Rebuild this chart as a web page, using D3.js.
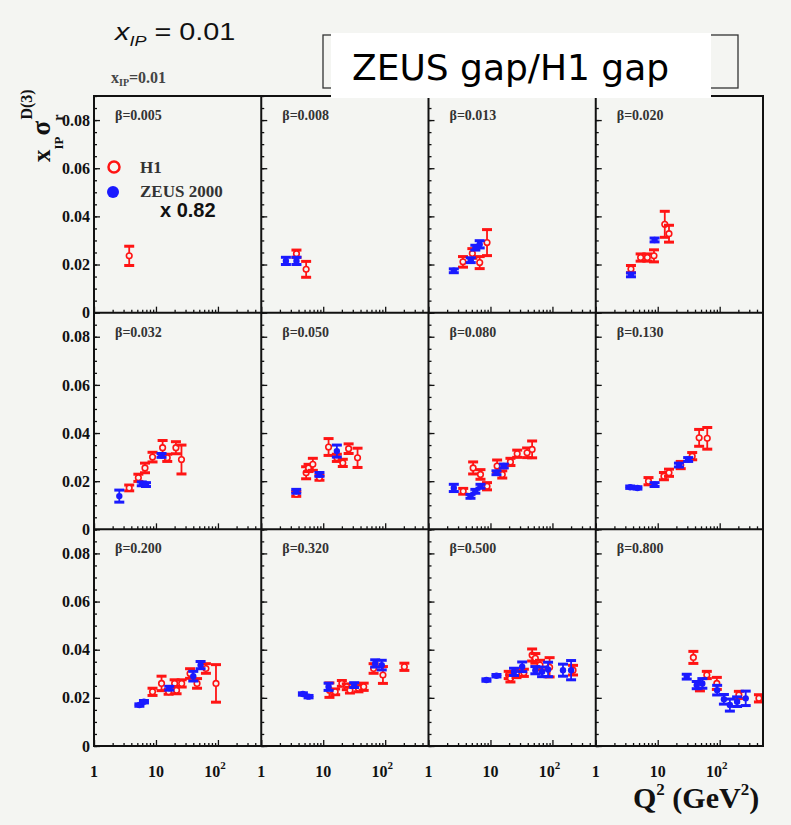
<!DOCTYPE html>
<html>
<head>
<meta charset="utf-8">
<script src="https://cdn.jsdelivr.net/npm/d3@7"></script>
<style>
  body { margin: 0; background: #f4f5f2; }
  svg { display: block; }
</style>
</head>
<body>
<svg id="chart"></svg>
<script>
// beta bins, one per panel (row by row)
var betas = ["0.005", "0.008", "0.013", "0.020", "0.032", "0.050", "0.080", "0.130", "0.200", "0.320", "0.500", "0.800"];

// H1 points per panel: [Q2, xIP*sigma, error]
var h1Points = [
  [[3.7, 0.0236, 0.004]],
  [[3.7, 0.0245, 0.0015], [5.3, 0.018, 0.0033]],
  [[3.6, 0.0211, 0.0022], [5.1, 0.0246, 0.002], [6.7, 0.0208, 0.0025], [8.8, 0.0291, 0.0054]],
  [[3.7, 0.0181, 0.0015], [5.3, 0.0229, 0.0015], [6.8, 0.0229, 0.0015], [8.7, 0.0236, 0.0025], [13, 0.0367, 0.0054], [15.2, 0.0328, 0.0035]],
  [[3.7, 0.0172, 0.0012], [5.2, 0.0214, 0.0015], [6.65, 0.0255, 0.002], [8.8, 0.030, 0.002], [12.8, 0.0339, 0.003], [15.2, 0.0297, 0.0015], [21, 0.0339, 0.0025], [25.8, 0.029, 0.006]],
  [[3.67, 0.0147, 0.001], [5.3, 0.0235, 0.0025], [5.8, 0.0255, 0.0015], [6.8, 0.027, 0.0025], [8.7, 0.0214, 0.001], [12.2, 0.0342, 0.0035], [16.6, 0.0297, 0.0015], [20.7, 0.0276, 0.0015], [25.7, 0.0335, 0.002], [35.8, 0.0297, 0.004]],
  [[3.63, 0.0158, 0.0012], [5.25, 0.0255, 0.0025], [6.9, 0.0228, 0.002], [8.8, 0.0179, 0.0015], [12.8, 0.0263, 0.0025], [15.5, 0.0228, 0.0015], [21, 0.028, 0.0015], [27, 0.0314, 0.0015], [39, 0.0318, 0.002], [47, 0.0332, 0.0035]],
  [[7.1, 0.020, 0.0015], [12.6, 0.0221, 0.0015], [15.2, 0.0235, 0.0015], [23.5, 0.0267, 0.0015], [36, 0.0304, 0.0015], [46.6, 0.038, 0.0035], [63, 0.0378, 0.0045]],
  [[8.8, 0.0225, 0.0015], [12.3, 0.026, 0.003], [16, 0.0225, 0.001], [20, 0.026, 0.0015], [21.5, 0.0232, 0.0015], [26, 0.026, 0.0015], [35.5, 0.0301, 0.002], [46, 0.026, 0.002], [64, 0.0322, 0.002], [93, 0.026, 0.0078]],
  [[12.6, 0.0232, 0.003], [15.6, 0.0225, 0.0012], [20, 0.026, 0.0012], [24, 0.0246, 0.0012], [27, 0.0232, 0.0012], [37, 0.024, 0.0015], [45, 0.0246, 0.0015], [65, 0.0322, 0.002], [92, 0.0295, 0.0035], [204, 0.0329, 0.0015]],
  [[19.7, 0.0295, 0.0015], [21, 0.0281, 0.0015], [26.3, 0.0299, 0.0015], [34.6, 0.0304, 0.0015], [47, 0.0378, 0.0025], [53, 0.0364, 0.002], [63, 0.0336, 0.002], [90, 0.0327, 0.004], [215, 0.0315, 0.002]],
  [[37.6, 0.0368, 0.0025], [48, 0.0244, 0.0015], [62, 0.0295, 0.0015], [90, 0.026, 0.0025], [204, 0.0212, 0.0015], [430, 0.0198, 0.0015]]
];

// ZEUS 2000 points (x 0.82) per panel: [Q2, xIP*sigma, error]
var zeusPoints = [
  [],
  [[2.5, 0.0215, 0.0015], [3.7, 0.0215, 0.0015]],
  [[2.56, 0.0174, 0.0008], [4.8, 0.0218, 0.001], [5.7, 0.027, 0.001], [6.7, 0.0284, 0.0015]],
  [[3.7, 0.0157, 0.0008], [8.9, 0.0302, 0.0008]],
  [[2.56, 0.0138, 0.0025], [5.9, 0.0189, 0.0008], [6.9, 0.0186, 0.0008], [12.3, 0.0307, 0.0008]],
  [[3.67, 0.0158, 0.0008], [8.7, 0.0228, 0.0008], [16.6, 0.0325, 0.0025]],
  [[2.56, 0.0172, 0.0015], [4.76, 0.0137, 0.0008], [5.7, 0.0158, 0.0008], [6.9, 0.0179, 0.0008], [12.5, 0.0235, 0.0008], [16.4, 0.0263, 0.0008]],
  [[3.6, 0.0175, 0.0005], [4.7, 0.0172, 0.0005], [8.9, 0.0186, 0.0008], [22, 0.0267, 0.0008], [31, 0.029, 0.0008]],
  [[5.4, 0.017, 0.0005], [6.4, 0.0184, 0.0005], [16.4, 0.024, 0.0008], [40, 0.029, 0.002], [52.5, 0.0336, 0.0015]],
  [[4.7, 0.0216, 0.0005], [5.8, 0.0205, 0.0005], [12.2, 0.0246, 0.0015], [31.6, 0.0253, 0.001], [69, 0.0343, 0.0015], [88, 0.0336, 0.002]],
  [[8.6, 0.0274, 0.0005], [12.5, 0.0292, 0.0005], [24, 0.0308, 0.0015], [32.5, 0.0329, 0.002], [53, 0.0315, 0.0015], [68, 0.0308, 0.002], [85, 0.0318, 0.003], [148, 0.0315, 0.0025], [200, 0.0315, 0.004]],
  [[29.4, 0.0288, 0.001], [42.6, 0.0253, 0.0015], [52.5, 0.026, 0.002], [91, 0.0232, 0.002], [117, 0.0194, 0.002], [146, 0.017, 0.0025], [191, 0.0184, 0.002], [263, 0.0198, 0.003]]
];

var yTicks = [0, 0.02, 0.04, 0.06, 0.08];
var xTicks = [1, 10, 100];
var xMinor = [2, 3, 4, 5, 6, 7, 8, 9, 20, 30, 40, 50, 60, 70, 80, 90, 200, 300, 400];

var W = 791, H = 825;
var gridLeft = 94, gridTop = 96, cols = 4, rows = 3;
var pw = (763 - gridLeft) / cols, ph = (746 - gridTop) / rows;
var red = "#ff1414", blue = "#1a1aff", bg = "#f4f5f2";
var serif = "'Liberation Serif', 'Times New Roman', serif";
var sans = "'Liberation Sans', Arial, sans-serif";

var svg = d3.select("#chart").attr("width", W).attr("height", H);
svg.append("rect").attr("width", W).attr("height", H).attr("fill", bg);

var x = d3.scaleLog().domain([1, 500]).range([0, pw]);
var y = d3.scaleLinear().domain([0, 0.09]).range([ph, 0]);

betas.forEach(function(b, i) {
  var c = i % cols, r = Math.floor(i / cols);
  var g = svg.append("g").attr("transform", "translate(" + (gridLeft + c * pw) + "," + (gridTop + r * ph) + ")");

  // minor and major ticks, pointing inward
  g.append("g").call(d3.axisLeft(y).tickValues(d3.range(0, 0.0901, 0.005)).tickSize(-3).tickFormat(""));
  var ya = g.append("g").call(d3.axisLeft(y).tickValues(yTicks).tickSize(-6).tickPadding(4)
    .tickFormat(c === 0 ? function(d) { return d === 0 ? "0" : d3.format(".2f")(d); } : ""));
  g.append("g").attr("transform", "translate(0," + ph + ")")
    .call(d3.axisBottom(x).tickValues(xMinor).tickSize(-3).tickFormat(""));
  g.append("g").attr("transform", "translate(0," + ph + ")")
    .call(d3.axisBottom(x).tickValues(xTicks).tickSize(-6).tickFormat(""));
  g.selectAll(".domain").remove();
  g.selectAll(".tick line").attr("stroke", "#111").attr("stroke-width", 1.3);
  ya.selectAll("text").attr("font-family", serif).attr("font-weight", "bold").attr("font-size", 16).attr("fill", "#111");

  // x tick labels on the bottom row
  if (r === rows - 1) {
    xTicks.forEach(function(t) {
      var tx = g.append("text").attr("x", x(t)).attr("y", ph + 31)
        .attr("text-anchor", "middle").attr("font-family", serif).attr("font-weight", "bold")
        .attr("font-size", 16).attr("fill", "#111");
      if (t === 100) {
        tx.attr("x", x(t) - 3).text("10");
        tx.append("tspan").attr("font-size", 11).attr("dy", -8).text("2");
      } else {
        tx.text(t);
      }
    });
  }

  g.append("text").attr("x", 21).attr("y", 24)
    .attr("font-family", serif).attr("font-weight", "bold").attr("font-size", 14).attr("fill", "#333")
    .text("\u03b2=" + b);

  // H1 points
  var hp = g.append("g").selectAll("g").data(h1Points[i]).enter().append("g");
  drawErr(hp, red);
  hp.append("circle").attr("cx", function(d) { return x(d[0]); }).attr("cy", function(d) { return y(d[1]); })
    .attr("r", 2.8).attr("fill", bg).attr("stroke", red).attr("stroke-width", 1.6);

  // ZEUS points
  var zp = g.append("g").selectAll("g").data(zeusPoints[i]).enter().append("g");
  drawErr(zp, blue);
  zp.append("circle").attr("cx", function(d) { return x(d[0]); }).attr("cy", function(d) { return y(d[1]); })
    .attr("r", 3.2).attr("fill", blue);
});

function drawErr(sel, col) {
  sel.append("line")
    .attr("x1", function(d) { return x(d[0]); }).attr("x2", function(d) { return x(d[0]); })
    .attr("y1", function(d) { return y(d[1] - d[2]); }).attr("y2", function(d) { return y(d[1] + d[2]); })
    .attr("stroke", col).attr("stroke-width", 1.8);
  [-1, 1].forEach(function(s) {
    sel.append("line")
      .attr("x1", function(d) { return x(d[0]) - 5; }).attr("x2", function(d) { return x(d[0]) + 5; })
      .attr("y1", function(d) { return y(d[1] + s * d[2]); }).attr("y2", function(d) { return y(d[1] + s * d[2]); })
      .attr("stroke", col).attr("stroke-width", 3);
  });
}

// panel grid lines
var frame = svg.append("g").attr("stroke", "#111").attr("stroke-width", 2).attr("fill", "none");
frame.append("rect").attr("x", gridLeft).attr("y", gridTop).attr("width", pw * cols).attr("height", ph * rows);
d3.range(1, cols).forEach(function(k) {
  frame.append("line").attr("x1", gridLeft + k * pw).attr("x2", gridLeft + k * pw).attr("y1", gridTop).attr("y2", gridTop + ph * rows);
});
d3.range(1, rows).forEach(function(k) {
  frame.append("line").attr("x1", gridLeft).attr("x2", gridLeft + pw * cols).attr("y1", gridTop + k * ph).attr("y2", gridTop + k * ph);
});

// legend in first panel
svg.append("circle").attr("cx", 114).attr("cy", 167).attr("r", 5.5).attr("fill", "none").attr("stroke", red).attr("stroke-width", 2.5);
svg.append("circle").attr("cx", 113).attr("cy", 192).attr("r", 6).attr("fill", blue);
svg.append("text").attr("x", 140).attr("y", 173).attr("font-family", serif).attr("font-weight", "bold")
  .attr("font-size", 17).attr("fill", "#333").text("H1");
svg.append("text").attr("x", 140).attr("y", 197).attr("font-family", serif).attr("font-weight", "bold")
  .attr("font-size", 17).attr("fill", "#333").text("ZEUS 2000");
svg.append("text").attr("x", 160).attr("y", 217).attr("font-family", sans)
  .attr("font-weight", "bold").attr("font-size", 20).attr("fill", "#111").text("x 0.82");

// y axis title
var yt = svg.append("text").attr("transform", "translate(50,162) rotate(-90)")
  .attr("font-family", serif).attr("font-weight", "bold").attr("fill", "#111");
yt.append("tspan").attr("font-size", 25).text("x");
yt.append("tspan").attr("font-size", 13).attr("dy", 13).text("IP");
yt.append("tspan").attr("font-size", 27).attr("dy", -13).attr("dx", 1).text("\u03c3");
yt.append("tspan").attr("font-size", 14).attr("dy", 13).text("r");
yt.append("tspan").attr("font-size", 16).attr("dy", -31).attr("dx", -5).text("D(3)");

// x axis title
var xt = svg.append("text").attr("x", 633).attr("y", 808)
  .attr("font-family", serif).attr("font-weight", "bold").attr("font-size", 30).attr("fill", "#111");
xt.append("tspan").text("Q");
xt.append("tspan").attr("font-size", 17).attr("dy", -13).text("2");
xt.append("tspan").attr("dy", 13).text(" (GeV");
xt.append("tspan").attr("font-size", 17).attr("dy", -13).text("2");
xt.append("tspan").attr("dy", 13).text(")");

// small in-plot header
var sh = svg.append("text").attr("x", 111).attr("y", 83)
  .attr("font-family", serif).attr("font-weight", "bold").attr("font-size", 16).attr("fill", "#444");
sh.append("tspan").text("x");
sh.append("tspan").attr("font-size", 10).attr("dy", 3).text("IP");
sh.append("tspan").attr("dy", -3).text("=0.01");

// big header
var bh = svg.append("text").attr("transform", "translate(115,40) scale(1.2,1)")
  .attr("font-family", sans).attr("font-size", 24).attr("fill", "#111");
bh.append("tspan").attr("font-style", "italic").text("x");
bh.append("tspan").attr("font-style", "italic").attr("font-size", 15).attr("dy", 6).text("IP");
bh.append("tspan").attr("dy", -6).text(" = 0.01");

// title box
svg.append("rect").attr("x", 323).attr("y", 35).attr("width", 415).attr("height", 53)
  .attr("fill", "none").attr("stroke", "#333").attr("stroke-width", 1.3);
svg.append("rect").attr("x", 331).attr("y", 33).attr("width", 380).attr("height", 65).attr("fill", "#ffffff");
svg.append("text").attr("x", 352).attr("y", 80)
  .attr("font-family", "'DejaVu Sans', Verdana, sans-serif").attr("font-size", 36).attr("fill", "#000")
  .text("ZEUS gap/H1 gap");
</script>
</body>
</html>
